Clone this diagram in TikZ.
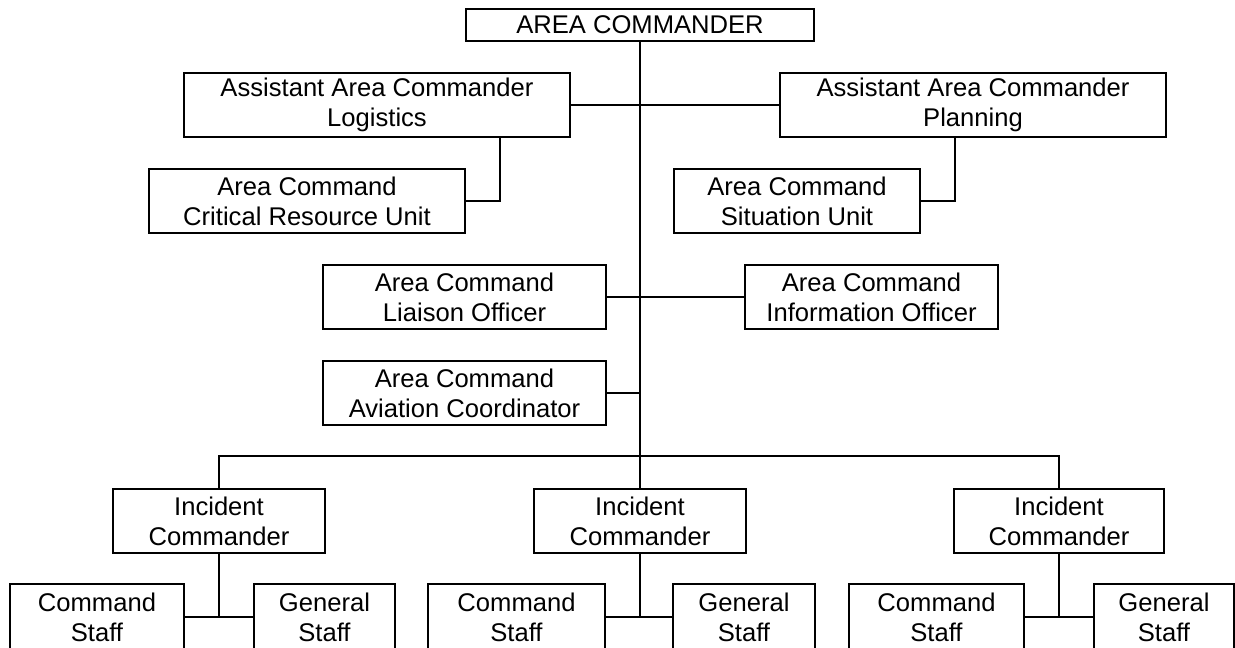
\documentclass[tikz,border=0pt]{standalone}
\usepackage{fontspec}
\setmainfont{Liberation Sans}
\begin{document}
\begin{tikzpicture}[x=1pt, y=-1pt, line width=2pt,
    box/.style={draw, align=center, inner sep=0pt, minimum height=64,
      font=\fontsize{25.6}{30}\selectfont}]
\useasboundingbox (0,0) rectangle (1235,648);

\node[box, minimum width=348, minimum height=32] (ac) at (640,25) {AREA COMMANDER};
\node[box, minimum width=386] (log) at (377,105) {Assistant Area Commander\\Logistics};
\node[box, minimum width=386] (plan) at (973,105) {Assistant Area Commander\\Planning};
\node[box, minimum width=316] (crit) at (307,201) {Area Command\\Critical Resource Unit};
\node[box, minimum width=246] (sit) at (797,201) {Area Command\\Situation Unit};
\node[box, minimum width=283] (liai) at (464.5,297) {Area Command\\Liaison Officer};
\node[box, minimum width=253] (info) at (871.5,297) {Area Command\\Information Officer};
\node[box, minimum width=283] (avia) at (464.5,393) {Area Command\\Aviation Coordinator};

\node[box, minimum width=212] (ic1) at (219,521) {Incident\\Commander};
\node[box, minimum width=212] (ic2) at (640,521) {Incident\\Commander};
\node[box, minimum width=210] (ic3) at (1059,521) {Incident\\Commander};

\node[box, minimum width=174, minimum height=66] (cs1) at (97,617) {Command\\Staff};
\node[box, minimum width=141, minimum height=66] (gs1) at (324.5,617) {General\\Staff};
\node[box, minimum width=177, minimum height=66] (cs2) at (516.5,617) {Command\\Staff};
\node[box, minimum width=142, minimum height=66] (gs2) at (744,617) {General\\Staff};
\node[box, minimum width=175, minimum height=66] (cs3) at (936.5,617) {Command\\Staff};
\node[box, minimum width=140, minimum height=66] (gs3) at (1164,617) {General\\Staff};

% area command staff
\draw (ac.south) -- (ic2.north);
\draw (log.east) -- (plan.west);
\coordinate (logdrop) at (500,137);
\coordinate (plandrop) at (955,137);
\draw (logdrop) |- (crit.east);
\draw (plandrop) |- (sit.east);
\draw (liai.east) -- (info.west);
\draw (avia.east) -- (avia.east -| ac.south);

% incidents
\draw (ic1.north) -- ++(0,-32) -| (ic3.north);
\draw (ic1.south) -- (ic1.south |- cs1.east) (cs1.east) -- (gs1.west);
\draw (ic2.south) -- (ic2.south |- cs2.east) (cs2.east) -- (gs2.west);
\draw (ic3.south) -- (ic3.south |- cs3.east) (cs3.east) -- (gs3.west);
\end{tikzpicture}
\end{document}
